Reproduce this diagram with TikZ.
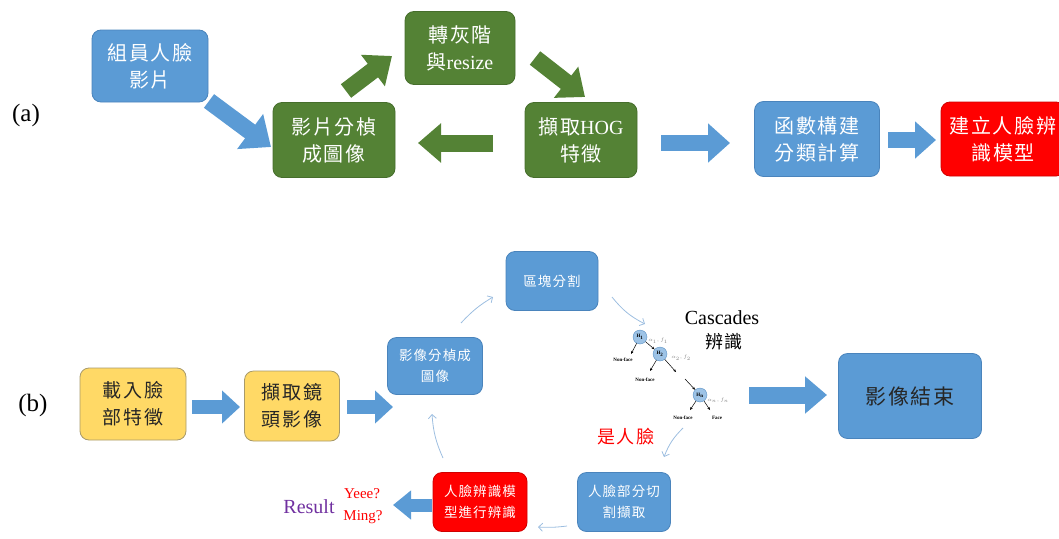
\documentclass[tikz,border=0pt]{standalone}
\usepackage{fontspec}
\setmainfont{Liberation Serif}
\newfontfamily\cjk[LetterSpace=8]{Noto Sans CJK TC}
\usetikzlibrary{arrows.meta}
\definecolor{cblue}{HTML}{5B9BD5}
\definecolor{cblueD}{HTML}{4A84BC}
\definecolor{cgreen}{HTML}{548235}
\definecolor{cgreenD}{HTML}{466E2C}
\definecolor{cred}{HTML}{FF0000}
\definecolor{credD}{HTML}{D00000}
\definecolor{cyellow}{HTML}{FFD966}
\definecolor{cyellowD}{HTML}{A89A6A}
\definecolor{cthin}{HTML}{9DBEE0}
\definecolor{cpurple}{HTML}{7030A0}
\definecolor{ctext}{HTML}{262626}
\definecolor{clight}{HTML}{9DC3E6}
\tikzset{
  box/.style={rounded corners=9pt, line width=0.8pt, align=center, inner sep=0pt},
  bluebox/.style={box, fill=cblue, draw=cblueD, text=white},
  greenbox/.style={box, fill=cgreen, draw=cgreenD, text=white},
  redbox/.style={box, fill=cred, draw=credD, text=white},
  yellowbox/.style={box, fill=cyellow, draw=cyellowD, text=ctext},
  bigtxt/.style={font=\cjk\fontsize{20}{27}\selectfont},
  midtxt/.style={font=\cjk\fontsize{19}{27}\selectfont},
  smalltxt/.style={font=\cjk\fontsize{13.5}{21}\selectfont},
  blk/.style n args={3}{line width=#1, -{Triangle[length=#3,width=#2]}},
  thinarr/.style={draw=cthin, line width=0.8pt, -{Straight Barb[length=4pt,width=8pt]}},
  hnode/.style={circle, fill=clight, draw=cblueD, line width=0.3pt, minimum size=14pt, inner sep=0pt, font=\bfseries\fontsize{5}{5}\selectfont},
  nf/.style={font=\bfseries\fontsize{5}{6}\selectfont, inner sep=0pt},
  al/.style={font=\fontsize{5}{6}\selectfont, text=gray, inner sep=0pt},
  carr/.style={line width=0.5pt, -{Stealth[length=3pt,width=2.5pt]}}
}
\begin{document}
\begin{tikzpicture}[x=1pt,y=-1pt]
\useasboundingbox (0,0) rectangle (1059,538);
% ---------------- (a) ----------------
\node[font=\fontsize{25}{25}\selectfont] (la) at (26,115) {(a)};
\node[bluebox, bigtxt, minimum width=116pt, minimum height=72pt] (n1) at (150,66) {組員人臉\\影片};
\node[greenbox, bigtxt, minimum width=110pt, minimum height=73pt] (n2) at (460,48) {轉灰階\\與{\rmfamily resize}};
\node[greenbox, bigtxt, minimum width=122pt, minimum height=75pt] (n3) at (334,140) {影片分楨\\成圖像};
\node[greenbox, bigtxt, minimum width=112pt, minimum height=75pt] (n4) at (581,140) {擷取{\rmfamily HOG}\\特徵};
\node[bluebox, bigtxt, minimum width=125pt, minimum height=75pt] (n5) at (817,139) {函數構建\\分類計算};
\node[redbox, bigtxt, minimum width=124pt, minimum height=74pt] (n6) at (1003,139) {建立人臉辨\\識模型};

\coordinate (a1s) at (209,101); \coordinate (a1e) at (271,147);
\coordinate (a2s) at (346,91);  \coordinate (a2e) at (392,56);
\coordinate (a3s) at (535,58);  \coordinate (a3e) at (585,97);
\coordinate (a4s) at (493,143); \coordinate (a4e) at (418,143);
\coordinate (a5s) at (661,143); \coordinate (a5e) at (730,143);
\coordinate (a6s) at (888,140); \coordinate (a6e) at (936,140);
\draw[blk={17pt}{42pt}{26pt}, cblue] (a1s) -- (a1e);
\draw[blk={17pt}{38pt}{24pt}, cgreen] (a2s) -- (a2e);
\draw[blk={17pt}{38pt}{24pt}, cgreen] (a3s) -- (a3e);
\draw[blk={17pt}{38pt}{23pt}, cgreen] (a4s) -- (a4e);
\draw[blk={16pt}{38pt}{22pt}, cblue] (a5s) -- (a5e);
\draw[blk={16pt}{36pt}{21pt}, cblue] (a6s) -- (a6e);

% ---------------- (b) ----------------
\node[font=\fontsize{25}{25}\selectfont] (lb) at (33,405) {(b)};
\node[yellowbox, midtxt, minimum width=106pt, minimum height=72pt] (y1) at (133,404) {載入臉\\部特徵};
\node[yellowbox, midtxt, minimum width=95pt, minimum height=70pt] (y2) at (292,406) {擷取鏡\\頭影像};
\node[bluebox, smalltxt, minimum width=95pt, minimum height=57pt] (b1) at (435,366) {影像分楨成\\圖像};
\node[bluebox, smalltxt, minimum width=92pt, minimum height=59pt] (b2) at (552,281) {區塊分割};
\node[bluebox, smalltxt, minimum width=93pt, minimum height=59pt] (b3) at (624,502) {人臉部分切\\割擷取};
\node[redbox, smalltxt, minimum width=94pt, minimum height=59pt] (b4) at (480,502) {人臉辨識模\\型進行辨識};
\node[bluebox, font=\cjk\fontsize{21}{27}\selectfont, text=ctext, minimum width=143pt, minimum height=85pt] (be) at (910,396) {影像結束};

\coordinate (b1s) at (192,407); \coordinate (b1e) at (240,407);
\coordinate (b2s) at (347,407); \coordinate (b2e) at (393,407);
\coordinate (b3s) at (749,395); \coordinate (b3e) at (827,395);
\coordinate (b4s) at (432,505); \coordinate (b4e) at (393,505);
\draw[blk={14pt}{32pt}{18pt}, cblue] (b1s) -- (b1e);
\draw[blk={14pt}{32pt}{18pt}, cblue] (b2s) -- (b2e);
\draw[blk={17pt}{36pt}{22pt}, cblue] (b3s) -- (b3e);
\draw[blk={13pt}{28pt}{18pt}, cblue] (b4s) -- (b4e);

% labels
\node[font=\fontsize{20}{22}\selectfont] (cas) at (722,318) {Cascades};
\node[font=\cjk\fontsize{18}{22}\selectfont] (cas2) at (724,342) {辨識};
\node[font=\cjk\fontsize{18}{22}\selectfont, text=cred] (shi) at (626,437) {是人臉};
\node[font=\fontsize{20}{22}\selectfont, text=cpurple] (res) at (309,507) {Result};
\node[font=\fontsize{15}{16}\selectfont, text=cred] (yee) at (362,494) {Yeee?};
\node[font=\fontsize{15}{16}\selectfont, text=cred] (ming) at (363,517) {Ming?};

% cascade tree
\node[hnode] (h1) at (640,337) {H\textsubscript{1}};
\node[hnode] (h2) at (660,354) {H\textsubscript{2}};
\node[hnode] (hn) at (700,395) {H\textsubscript{n}};
\node[al] (l1) at (658,341) {$\alpha_1,f_1$};
\node[al] (l2) at (681,358) {$\alpha_2,f_2$};
\node[al] (ln) at (718,400) {$\alpha_n,f_n$};
\node[nf] (nf1) at (623,360) {Non-face};
\node[nf] (nf2) at (645,380) {Non-face};
\node[nf] (nf3) at (683,418) {Non-face};
\node[nf] (fc) at (717,418) {Face};
\coordinate (c1) at (631,354);
\coordinate (c2) at (650,371);
\coordinate (c3) at (676,372);
\coordinate (c4) at (685,379);
\coordinate (c5) at (690,410);
\coordinate (c6) at (710,410);
\draw[carr] (h1) -- (c1);
\draw[carr] (h1) -- (h2);
\draw[carr] (h2) -- (c2);
\draw[carr] (h2) -- (c3);
\draw[carr] (c4) -- (hn);
\draw[carr] (hn) -- (c5);
\draw[carr] (hn) -- (c6);

% thin cycle arrows
\coordinate (t1s) at (461,323); \coordinate (t1e) at (493,297);
\coordinate (t2s) at (612,297); \coordinate (t2e) at (645,324);
\coordinate (t3s) at (683,428); \coordinate (t3e) at (664,457);
\coordinate (t4s) at (567,526); \coordinate (t4e) at (538,527);
\coordinate (t5s) at (443,458); \coordinate (t5e) at (432,414);
\draw[thinarr] (t1s) to[bend left=8] (t1e);
\draw[thinarr] (t2s) to[bend right=12] (t2e);
\draw[thinarr] (t3s) to[bend right=12] (t3e);
\draw[thinarr] (t4s) to[bend left=5] (t4e);
\draw[thinarr] (t5s) to[bend left=10] (t5e);
\end{tikzpicture}
\end{document}
